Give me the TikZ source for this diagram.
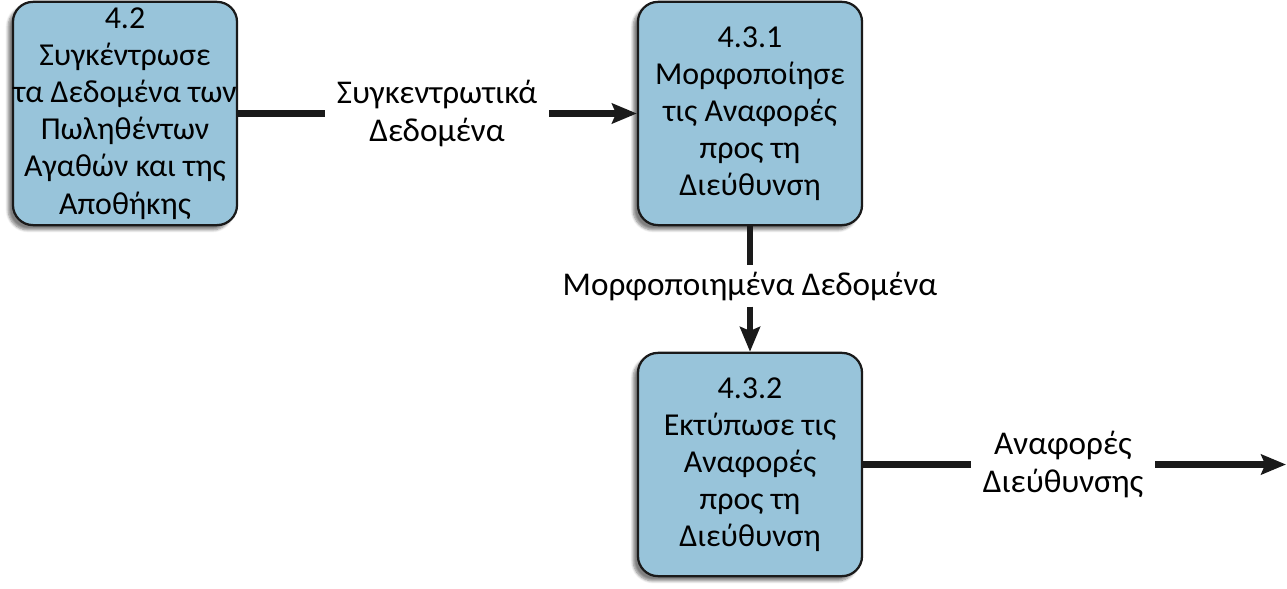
\documentclass[tikz,border=0pt]{standalone}
\usepackage{fontspec}
\setmainfont{Carlito}
\usepackage{tikz}
\usetikzlibrary{arrows.meta}
\usetikzlibrary{shadows.blur}
\usetikzlibrary{calc,positioning}

\definecolor{procblue}{RGB}{152,196,218}
\definecolor{flowdark}{RGB}{26,26,26}

\begin{document}
\begin{tikzpicture}[x=0.025cm,y=-0.025cm,
    process/.style={draw=flowdark,line width=1.6pt,fill=procblue,rounded corners=0.5cm,
      align=center,inner sep=0pt,minimum width=5.6cm,minimum height=5.58cm,
      font=\fontsize{22.7}{26.4}\selectfont,
      blur shadow={shadow xshift=-0.12cm,shadow yshift=-0.12cm,shadow blur steps=6,shadow opacity=50}},
    flowlabel/.style={align=center,inner xsep=0.3cm,inner ysep=0.15cm,
      font=\fontsize{23.6}{27.5}\selectfont},
    flow/.style={line width=4.5pt,flowdark},
    tip/.style={-{Stealth[length=0.62cm,width=0.5cm,inset=0.1cm]}}]
        \useasboundingbox (0,0) rectangle (1287,589);

        % processes
        \node[process] (p42) at (125,113.5) {4.2\\Συγκέντρωσε\\τα Δεδομένα των\\Πωληθέντων\\Αγαθών και της\\Αποθήκης};
        \node[process] (p431) at (750,113.5) {4.3.1\\Μορφοποίησε\\τις Αναφορές\\προς τη\\Διεύθυνση};
        \node[process] (p432) at (750,464.5) {4.3.2\\Εκτύπωσε τις\\Αναφορές\\προς τη\\Διεύθυνση};

        % data flows
        \node[flowlabel] (f1) at (437,113.5) {Συγκεντρωτικά\\Δεδομένα};
        \node[flowlabel] (f2) at (750,286) {Μορφοποιημένα Δεδομένα};
        \node[flowlabel] (f3) at (1063,464.5) {Αναφορές\\Διεύθυνσης};
        \coordinate (out) at (1286,464.5);

        \draw[flow] (p42) -- (f1);
        \draw[flow,tip] (f1) -- (p431);
        \draw[flow] (p431) -- (f2);
        \draw[flow,tip] (f2) -- (p432);
        \draw[flow] (p432) -- (f3);
        \draw[flow,tip] (f3) -- (out);
      \end{tikzpicture}
\end{document}
